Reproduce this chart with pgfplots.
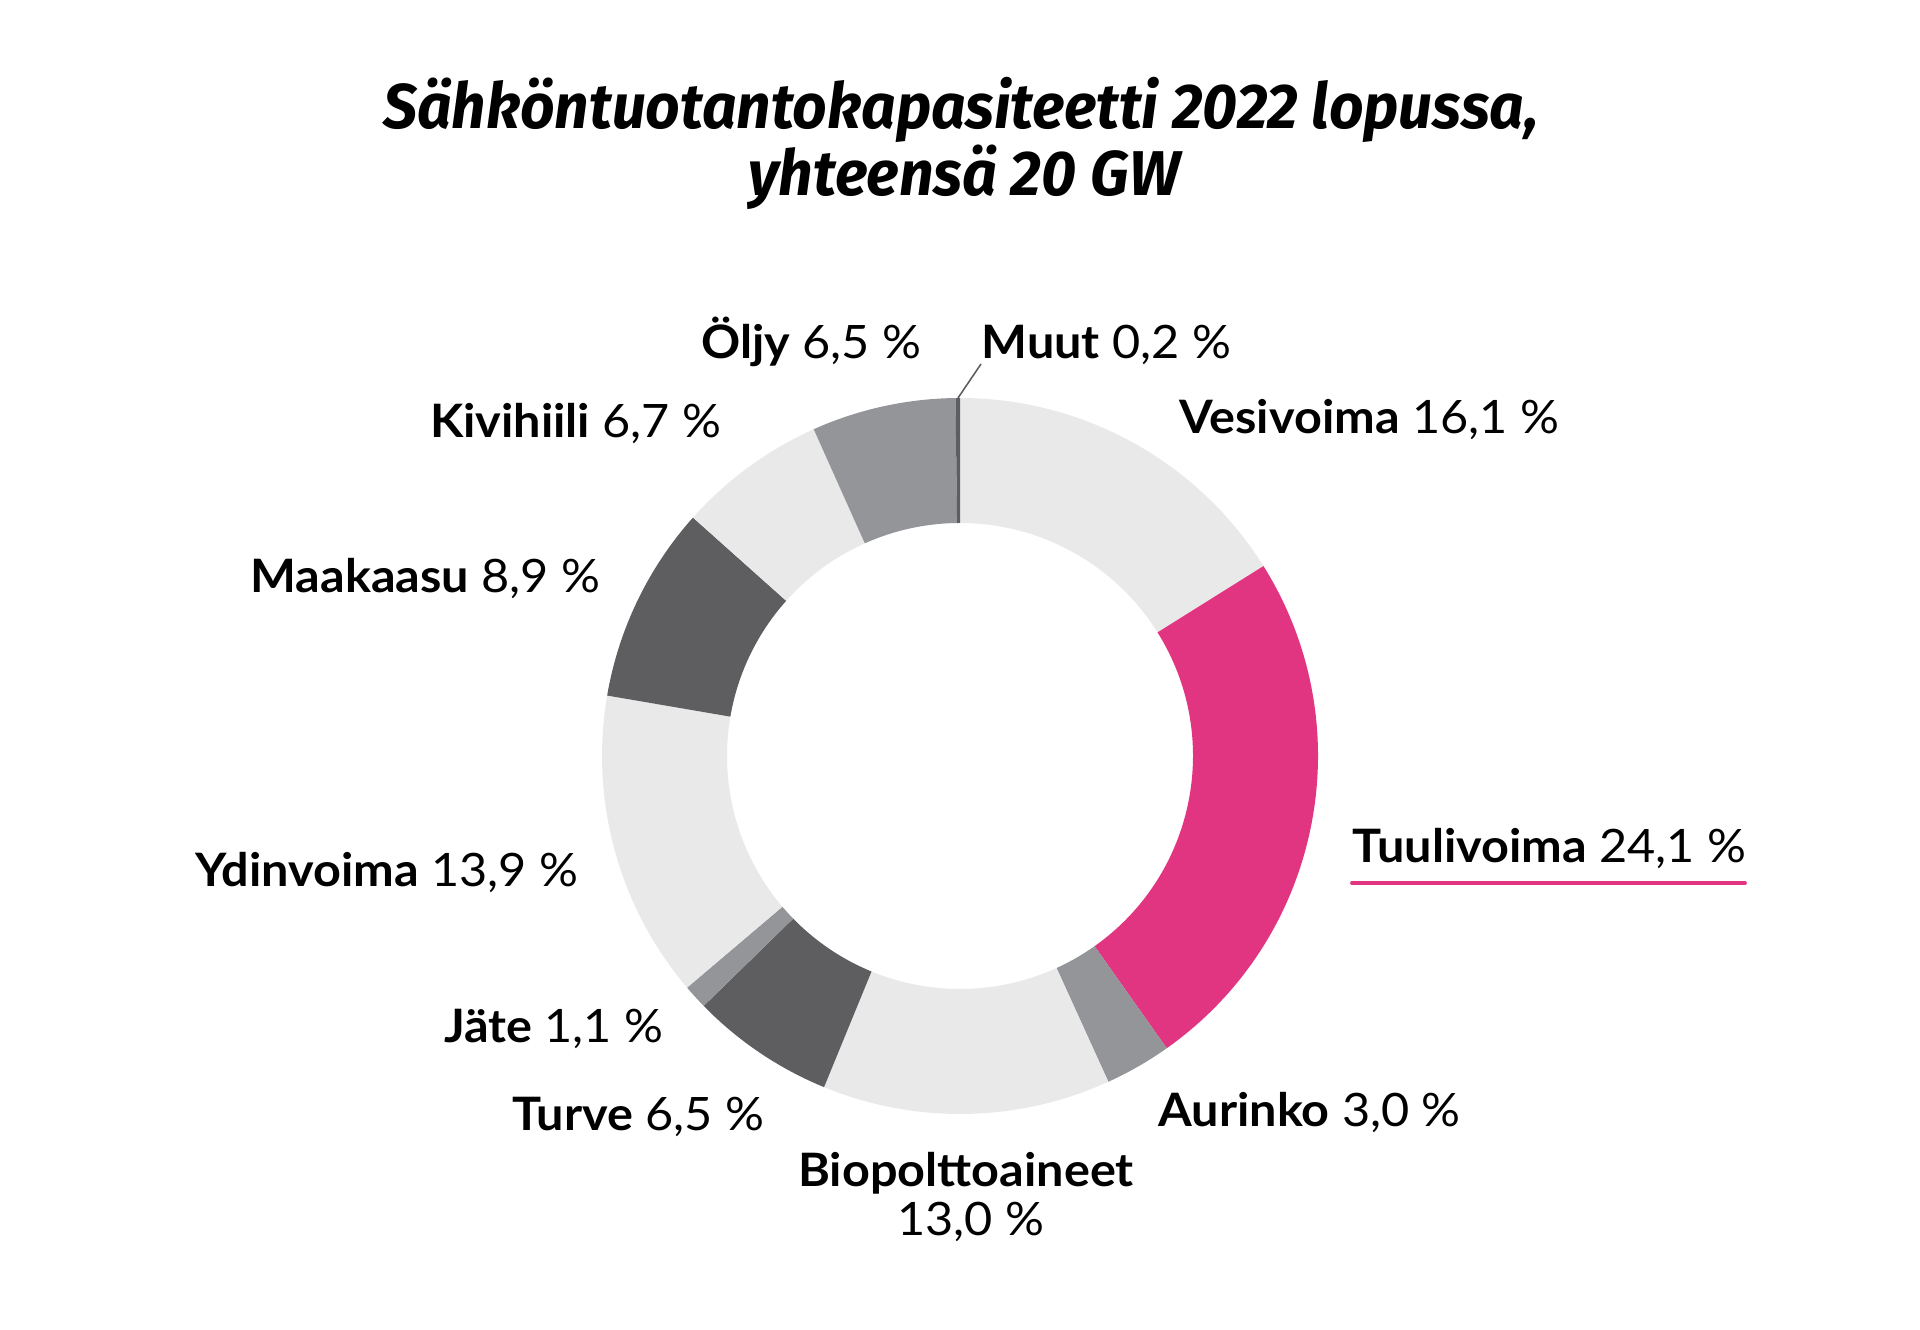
\documentclass[border=0pt]{standalone}
\usepackage{pgfplots}
\pgfplotsset{compat=1.18}
\usepackage{pgfplotstable}
\usepackage{graphicx}
\usepackage{fontspec}
\setmainfont{Lato}
\newfontfamily\titlefont{Fira Sans}
\definecolor{lightg}{HTML}{E9E9E9}
\definecolor{midg}{HTML}{939598}
\definecolor{darkg}{HTML}{5E5E60}
\definecolor{pinkc}{HTML}{E23581}

% clockwise from 12 o'clock
\pgfplotstableread{
name value col
Vesivoima 16.1 lightg
Tuulivoima 24.1 pinkc
Aurinko 3.0 midg
Biopolttoaineet 13.0 lightg
Turve 6.5 darkg
Jate 1.1 midg
Ydinvoima 13.9 lightg
Maakaasu 8.9 darkg
Kivihiili 6.7 lightg
Oljy 6.5 midg
Muut 0.2 darkg
}\energydata

\newcommand{\lab}[2]{\scalebox{1.055}[1]{\fontsize{13.1}{15}\selectfont\textbf{#1}~#2}}

\begin{document}
\begin{tikzpicture}
\def\cum{0}
\pgfplotsforeachungrouped \i in {0,...,10}{%
  \pgfplotstablegetelem{\i}{value}\of\energydata
  \pgfmathsetmacro\sa{90-3.6*\cum}%
  \pgfmathsetmacro\cum{\cum+\pgfplotsretval}%
  \pgfmathsetmacro\ea{90-3.6*\cum}%
  \expandafter\xdef\csname sa\i\endcsname{\sa}%
  \expandafter\xdef\csname ea\i\endcsname{\ea}%
  \pgfplotstablegetelem{\i}{col}\of\energydata
  \colorlet{seg\i}{\pgfplotsretval}%
}
\begin{axis}[x=0.1mm, y=0.1mm, xmin=0, xmax=1920, ymin=0, ymax=1330,
  hide axis, clip=false]
\path (axis cs:0,0) rectangle (axis cs:1920,1330);
\pgfplotsinvokeforeach{0,...,10}{
  \fill[seg#1] (axis cs:{960+358*cos(\csname sa#1\endcsname)},{574+358*sin(\csname sa#1\endcsname)})
    arc[start angle=\csname sa#1\endcsname, end angle=\csname ea#1\endcsname, radius=35.8mm]
    -- (axis cs:{960+233*cos(\csname ea#1\endcsname)},{574+233*sin(\csname ea#1\endcsname)})
    arc[start angle=\csname ea#1\endcsname, end angle=\csname sa#1\endcsname, radius=23.3mm]
    -- cycle;
}
\draw[darkg, line width=0.45pt] (axis cs:958,932) -- (axis cs:981,966);
% title
\node[anchor=base, inner sep=0pt] at (axis cs:961,1201)
  {\scalebox{0.955}[1]{\titlefont\bfseries\itshape\fontsize{18}{20}\selectfont S\"ahk\"ontuotantokapasiteetti 2022 lopussa,}};
\node[anchor=base, inner sep=0pt] at (axis cs:964,1134)
  {\scalebox{0.96}[1]{\titlefont\bfseries\itshape\fontsize{18}{20}\selectfont yhteens\"a 20 GW}};
% labels
\node[anchor=base east, inner sep=0pt] at (axis cs:922,971) {\lab{Öljy}{6,5~\%}};
\node[anchor=base west, inner sep=0pt] at (axis cs:981,971) {\lab{Muut}{0,2~\%}};
\node[anchor=base east, inner sep=0pt] at (axis cs:722,892) {\lab{Kivihiili}{6,7~\%}};
\node[anchor=base west, inner sep=0pt] at (axis cs:1179,896) {\lab{Vesivoima}{16,1~\%}};
\node[anchor=base east, inner sep=0pt] at (axis cs:601,737) {\lab{Maakaasu}{8,9~\%}};
\node[anchor=base west, inner sep=0pt] at (axis cs:1352,467) {\lab{Tuulivoima}{24,1~\%}};
\draw[pinkc, line width=1.1pt, line cap=round] (axis cs:1352,447) -- (axis cs:1745,447);
\node[anchor=base east, inner sep=0pt] at (axis cs:579,443) {\lab{Ydinvoima}{13,9~\%}};
\node[anchor=base east, inner sep=0pt] at (axis cs:664,287) {\lab{Jäte}{1,1~\%}};
\node[anchor=base east, inner sep=0pt] at (axis cs:765,199) {\lab{Turve}{6,5~\%}};
\node[anchor=base west, inner sep=0pt] at (axis cs:1158,203) {\lab{Aurinko}{3,0~\%}};
\node[anchor=base, inner sep=0pt] at (axis cs:966,143) {\scalebox{1.055}[1]{\fontsize{13.1}{15}\selectfont\textbf{Biopolttoaineet}}};
\node[anchor=base, inner sep=0pt] at (axis cs:971,94) {\scalebox{1.055}[1]{\fontsize{13.1}{15}\selectfont 13,0~\%}};
\end{axis}
\end{tikzpicture}
\end{document}
